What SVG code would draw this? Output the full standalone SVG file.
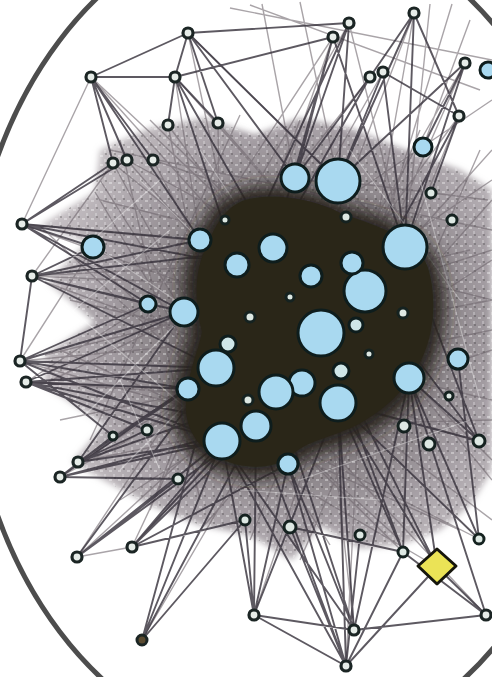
<svg xmlns="http://www.w3.org/2000/svg" width="492" height="677" viewBox="0 0 492 677">
<style>
.c1{fill:none;stroke:#35303a;stroke-width:1.9;stroke-opacity:0.8}
.c2{fill:none;stroke:#6f686e;stroke-width:1.4;stroke-opacity:0.6}
.c3{fill:none;stroke:#ffffff;stroke-width:1.1;stroke-opacity:0.35}
.b{fill:#a9d9f0;stroke:#0e1d1d;stroke-width:3}
.l{fill:#cfe6e8;stroke:#0e1d1d;stroke-width:3}
.s{fill:#dde8e3;stroke:#152220;stroke-width:3}
.p{fill:#e6ece8;stroke:#1b2524;stroke-width:3.2}
</style>
<defs>
<radialGradient id="mg" cx="300" cy="330" r="260" gradientUnits="userSpaceOnUse">
<stop offset="0" stop-color="#3b3529"/>
<stop offset="0.45" stop-color="#5e565a"/>
<stop offset="0.75" stop-color="#8d858c"/>
<stop offset="1" stop-color="#b4adb2"/>
</radialGradient>
<filter id="soft" x="-20%" y="-20%" width="140%" height="140%"><feGaussianBlur stdDeviation="3"/></filter>
<filter id="soft2" x="-20%" y="-20%" width="140%" height="140%"><feGaussianBlur stdDeviation="9"/></filter>
<pattern id="speck" width="9" height="9" patternUnits="userSpaceOnUse">
<rect x="1" y="2" width="3" height="2" fill="#ffffff" fill-opacity="0.35"/>
<rect x="5" y="6" width="2" height="3" fill="#ffffff" fill-opacity="0.25"/>
<rect x="6" y="0" width="2" height="2" fill="#000000" fill-opacity="0.2"/>
</pattern>
</defs>
<rect width="492" height="677" fill="#ffffff"/>
<g id="mesh">
<path filter="url(#soft)" d="M100 150 L150 128 L205 118 L255 135 L300 118 L350 128 L400 148 L460 170 L492 190 L492 470 L470 505 L440 530 L400 545 L360 548 L320 525 L292 560 L250 535 L200 525 L150 505 L100 478 L72 462 L105 425 L45 385 L45 355 L95 322 L48 282 L88 242 L40 226 L95 192 Z" fill="url(#mg)" fill-opacity="0.8"/>
<path d="M100 150 L150 128 L205 118 L255 135 L300 118 L350 128 L400 148 L460 170 L492 190 L492 470 L470 505 L440 530 L400 545 L360 548 L320 525 L292 560 L250 535 L200 525 L150 505 L100 478 L72 462 L105 425 L45 385 L45 355 L95 322 L48 282 L88 242 L40 226 L95 192 Z" fill="url(#speck)"/>
</g>
<g id="connectors">
<path class="c2" d="M113 163L321 333 M127 160L365 291 M153 160L405 247 M168 125L321 333 M218 123L365 291 M218 123L222 441 M168 125L216 368 M113 163L256 426 M153 160L276 392 M127 160L338 403 M22 224L321 333 M32 276L365 291 M20 361L321 333 M26 382L338 403 M60 477L321 333 M78 462L365 291 M77 557L321 333 M132 547L365 291 M142 640L321 333 M254 615L365 291 M354 630L321 333 M346 666L365 291 M91 77L321 333 M175 77L365 291 M188 33L405 247 M333 37L216 368 M349 23L184 312 M370 77L184 312 M414 13L256 426 M465 63L276 392 M383 72L216 368 M459 116L222 441 M479 441L216 368 M479 539L256 426 M486 615L276 392 M437 567L222 441 M403 552L216 368 M488 200L338 181 M492 250L365 291 M492 300L321 333 M492 150L405 247 M492 480L409 378 M492 520L338 403 M492 420L256 426 M492 350L222 441 M492 100L273 248 M492 180L216 368 M230 8L492 60 M250 5L480 90 M300 2L338 181 M262 4L295 178 M430 4L405 247 M452 4L365 291 M470 20L423 147 M110 150L492 230 M100 200L492 300 M70 300L492 400 M60 420L492 330 M120 500L492 260 M200 530L492 200 M300 560L480 150 M250 540L420 130 M150 510L300 120 M90 440L240 115 M80 250L400 540 M100 180L330 545 M60 350L460 530 M150 120L492 460 M40 226L300 470 M45 282L420 420 M45 355L470 250 M48 382L420 200 M95 192L260 470 M120 140L200 500 M20 361L93 247 M26 382L148 304 M32 276L113 163 M22 224L91 77 M60 477L147 430 M77 557L132 547 M113 436L188 389 M147 430L216 368 M22 224L273 248 M32 276L237 265 M20 361L256 426 M26 382L276 392 M60 477L216 368 M78 462L256 426 M132 547L216 368 M77 557L188 389 M91 77L273 248 M175 77L200 240 M188 33L237 265 M333 37L200 240 M349 23L405 247 M414 13L365 291 M465 63L365 291 M459 116L405 247"/>
<path class="c1" d="M188 33L91 77 M188 33L175 77 M91 77L175 77 M91 77L113 163 M91 77L153 160 M91 77L200 240 M175 77L168 125 M175 77L218 123 M175 77L273 248 M175 77L333 37 M188 33L218 123 M188 33L295 178 M188 33L338 181 M188 33L349 23 M91 77L127 160 M175 77L237 265 M333 37L295 178 M333 37L273 248 M349 23L338 181 M349 23L237 265 M349 23L295 178 M414 13L338 181 M414 13L405 247 M414 13L370 77 M370 77L295 178 M370 77L273 248 M383 72L338 181 M383 72L405 247 M383 72L459 116 M465 63L405 247 M465 63L423 147 M465 63L338 181 M459 116L365 291 M459 116L431 193 M333 37L405 247 M414 13L459 116 M22 224L93 247 M22 224L148 304 M22 224L200 240 M22 224L237 265 M22 224L184 312 M22 224L113 163 M22 224L127 160 M32 276L93 247 M32 276L148 304 M32 276L184 312 M32 276L216 368 M32 276L200 240 M32 276L273 248 M20 361L148 304 M20 361L184 312 M20 361L216 368 M20 361L188 389 M20 361L222 441 M20 361L113 436 M20 361L32 276 M26 382L184 312 M26 382L216 368 M26 382L188 389 M26 382L222 441 M26 382L256 426 M26 382L147 430 M60 477L113 436 M60 477L188 389 M60 477L222 441 M60 477L256 426 M60 477L178 479 M78 462L147 430 M78 462L216 368 M78 462L222 441 M78 462L276 392 M78 462L184 312 M77 557L178 479 M77 557L222 441 M77 557L256 426 M77 557L216 368 M132 547L222 441 M132 547L256 426 M132 547L276 392 M132 547L288 464 M132 547L245 520 M142 640L222 441 M142 640L256 426 M142 640L216 368 M142 640L245 520 M254 615L256 426 M254 615L288 464 M254 615L338 403 M254 615L245 520 M254 615L222 441 M254 615L354 630 M254 615L346 666 M346 666L288 464 M346 666L338 403 M346 666L256 426 M346 666L290 527 M346 666L360 535 M346 666L403 552 M346 666L437 567 M346 666L222 441 M354 630L288 464 M354 630L338 403 M354 630L276 392 M354 630L222 441 M354 630L409 378 M403 552L338 403 M403 552L409 378 M403 552L321 333 M403 552L290 527 M486 615L437 567 M486 615L403 552 M486 615L409 378 M486 615L354 630 M479 539L409 378 M479 539L458 359 M479 539L338 403 M479 441L409 378 M479 441L338 403 M479 441L365 291 M479 441L405 247 M437 567L338 403 M437 567L409 378 M437 567L321 333"/>
<path class="c3" d="M60 300L200 420 M50 330L170 230 M80 420L200 300 M120 470L240 350 M100 250L220 330 M140 180L260 300 M200 150L300 300 M350 150L460 300 M420 180L480 400 M300 480L470 420 M240 490L380 500 M120 380L160 470 M70 260L160 180"/>
</g>
<g id="core">
<path filter="url(#soft2)" d="M240 190 C270 180 320 190 345 205 C380 215 425 228 438 265 C450 300 445 345 428 375 C412 405 388 425 362 437 C337 450 312 450 297 465 C280 482 238 482 212 468 C185 456 170 430 172 400 C174 370 186 350 190 330 C180 300 180 265 196 238 C206 212 220 196 240 190 Z" fill="#28241a"/>
<path d="M245 200 C275 192 318 200 342 214 C378 226 418 238 428 268 C438 302 433 340 418 366 C402 396 378 414 355 426 C330 438 308 440 292 455 C276 470 242 470 220 458 C196 448 184 426 186 400 C188 372 198 352 202 332 C194 302 194 268 208 244 C216 222 228 206 245 200 Z" fill="#2a2618"/>
</g>
<g id="nodes">
<circle id="b1" class="b" cx="338" cy="181" r="22"/>
<circle id="b2" class="b" cx="295" cy="178" r="14"/>
<circle id="b3" class="b" cx="405" cy="247" r="22"/>
<circle id="b4" class="b" cx="365" cy="291" r="21"/>
<circle id="b5" class="b" cx="321" cy="333" r="23"/>
<circle id="b6" class="b" cx="273" cy="248" r="14"/>
<circle id="b7" class="b" cx="237" cy="265" r="12"/>
<circle id="b8" class="b" cx="200" cy="240" r="11"/>
<circle id="b9" class="b" cx="184" cy="312" r="14"/>
<circle id="b10" class="b" cx="93" cy="247" r="11"/>
<circle id="b11" class="b" cx="216" cy="368" r="18"/>
<circle id="b13" class="b" cx="302" cy="383" r="13"/>
<circle id="b12" class="b" cx="276" cy="392" r="17"/>
<circle id="b14" class="b" cx="338" cy="403" r="18"/>
<circle id="b15" class="b" cx="256" cy="426" r="15"/>
<circle id="b16" class="b" cx="222" cy="441" r="18"/>
<circle id="b17" class="b" cx="188" cy="389" r="11"/>
<circle id="b18" class="b" cx="409" cy="378" r="15"/>
<circle id="b19" class="b" cx="458" cy="359" r="10"/>
<circle id="b20" class="b" cx="311" cy="276" r="11"/>
<circle id="b21" class="b" cx="352" cy="263" r="11"/>
<circle id="b22" class="b" cx="423" cy="147" r="9"/>
<circle id="b23" class="b" cx="488" cy="70" r="8"/>
<circle id="b24" class="b" cx="148" cy="304" r="8"/>
<circle id="b25" class="b" cx="288" cy="464" r="10"/>
<circle id="b26" class="l" cx="228" cy="344" r="8"/>
<circle id="b27" class="l" cx="356" cy="325" r="7"/>
<circle id="b28" class="l" cx="341" cy="371" r="8"/>
<circle id="s1" class="s" cx="346" cy="217" r="5"/>
<circle id="s2" class="s" cx="250" cy="317" r="5"/>
<circle id="s3" class="s" cx="290" cy="297" r="4"/>
<circle id="s4" class="s" cx="403" cy="313" r="5"/>
<circle id="s5" class="s" cx="369" cy="354" r="4"/>
<circle id="s6" class="s" cx="404" cy="426" r="6"/>
<circle id="s7" class="s" cx="449" cy="396" r="4"/>
<circle id="s8" class="s" cx="429" cy="444" r="6"/>
<circle id="s9" class="s" cx="479" cy="441" r="6"/>
<circle id="s10" class="s" cx="248" cy="400" r="5"/>
<circle id="s11" class="s" cx="147" cy="430" r="5"/>
<circle id="s12" class="s" cx="113" cy="436" r="4"/>
<circle id="s13" class="s" cx="178" cy="479" r="5"/>
<circle id="s14" class="s" cx="290" cy="527" r="6"/>
<circle id="s15" class="s" cx="245" cy="520" r="5"/>
<circle id="s16" class="s" cx="225" cy="220" r="4"/>
<circle id="s17" class="s" cx="452" cy="220" r="5"/>
<circle id="s18" class="s" cx="431" cy="193" r="5"/>
<circle id="s19" class="s" cx="360" cy="535" r="5"/>
<circle id="s20" class="s" cx="403" cy="552" r="5"/>
<circle id="s21" class="s" cx="479" cy="539" r="5"/>
<circle id="p1" class="p" cx="188" cy="33" r="5"/>
<circle id="p2" class="p" cx="91" cy="77" r="5"/>
<circle id="p3" class="p" cx="175" cy="77" r="5"/>
<circle id="p4" class="p" cx="333" cy="37" r="5"/>
<circle id="p5" class="p" cx="349" cy="23" r="5"/>
<circle id="p6" class="p" cx="414" cy="13" r="5"/>
<circle id="p7" class="p" cx="370" cy="77" r="5"/>
<circle id="p8" class="p" cx="383" cy="72" r="5"/>
<circle id="p9" class="p" cx="459" cy="116" r="5"/>
<circle id="p10" class="p" cx="465" cy="63" r="5"/>
<circle id="p11" class="p" cx="113" cy="163" r="5"/>
<circle id="p12" class="p" cx="127" cy="160" r="5"/>
<circle id="p13" class="p" cx="153" cy="160" r="5"/>
<circle id="p14" class="p" cx="168" cy="125" r="5"/>
<circle id="p15" class="p" cx="218" cy="123" r="5"/>
<circle id="p16" class="p" cx="22" cy="224" r="5"/>
<circle id="p17" class="p" cx="32" cy="276" r="5"/>
<circle id="p18" class="p" cx="20" cy="361" r="5"/>
<circle id="p19" class="p" cx="26" cy="382" r="5"/>
<circle id="p20" class="p" cx="60" cy="477" r="5"/>
<circle id="p21" class="p" cx="78" cy="462" r="5"/>
<circle id="p22" class="p" cx="77" cy="557" r="5"/>
<circle id="p23" class="p" cx="132" cy="547" r="5"/>
<circle id="p24" cx="142" cy="640" r="5" fill="#5a4a30" stroke="#1b2524" stroke-width="3"/>
<circle id="p25" class="p" cx="254" cy="615" r="5"/>
<circle id="p26" class="p" cx="346" cy="666" r="5"/>
<circle id="p27" class="p" cx="354" cy="630" r="5"/>
<circle id="p28" class="p" cx="486" cy="615" r="5"/>
<polygon id="diamond" points="437,549 456,566 437,584 418,566" fill="#ebe356" stroke="#16160c" stroke-width="3" stroke-linejoin="round"/>
</g>
<g id="frame">
<ellipse cx="283" cy="336" rx="316" ry="418" fill="none" stroke="#4d4d4d" stroke-width="5"/>
</g>
</svg>
